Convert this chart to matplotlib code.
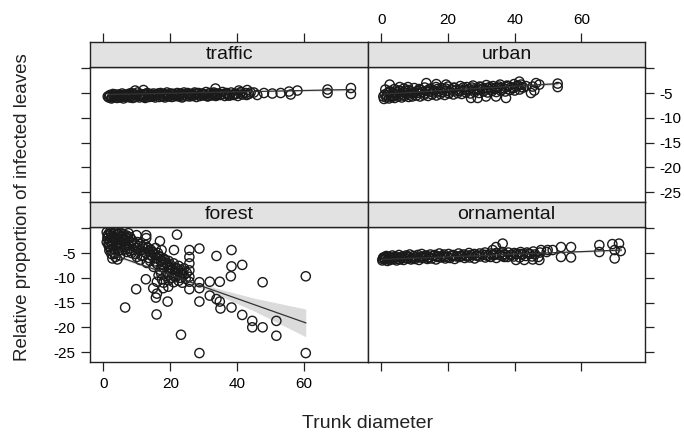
import numpy as np
import matplotlib
matplotlib.use("Agg")
import matplotlib.pyplot as plt

plt.rcParams['font.family'] = ['Liberation Sans', 'DejaVu Sans']

# ---- data ----
traffic_pts = [
    (1.6,-5.9),(2.4,-6.1),(3.3,-5.8),(4.1,-6.0),(5.2,-5.9),(6.0,-6.1),(6.9,-5.8),(7.9,-5.9),(8.8,-6.0),(9.7,-5.8),
    (10.8,-5.9),(11.6,-5.7),(12.5,-6.0),(13.7,-5.8),(14.6,-5.7),(15.5,-5.9),(16.7,-5.8),(17.6,-5.6),(18.4,-5.9),(19.6,-5.7),
    (20.5,-5.8),(21.7,-5.6),(22.6,-5.7),(23.5,-5.9),(24.8,-5.6),(25.7,-5.7),(26.9,-5.5),(27.8,-5.8),(28.9,-5.6),(30.1,-5.5),
    (31.2,-5.7),(32.4,-5.5),(33.6,-5.6),(34.9,-5.4),(36.3,-5.6),(37.4,-5.5),(38.9,-5.4),(40.2,-5.6),
    (2.0,-5.4),(2.9,-5.2),(3.7,-5.5),(4.6,-5.3),(5.6,-5.1),(6.5,-5.4),(7.4,-5.2),(8.3,-5.0),(9.3,-5.3),(10.2,-4.9),
    (11.1,-5.2),(12.0,-5.3),(13.1,-5.0),(14.1,-5.2),(15.0,-5.1),(16.1,-5.3),(17.1,-5.0),(18.0,-5.2),(19.0,-4.9),(20.1,-5.1),
    (21.1,-5.2),(22.1,-5.0),(23.0,-5.1),(24.1,-4.9),(25.2,-5.0),(26.3,-5.2),(27.3,-4.9),(28.4,-5.0),(29.5,-5.1),(30.7,-4.8),
    (31.8,-5.0),(33.0,-4.9),(34.3,-5.1),(35.6,-4.8),(36.8,-5.0),(38.2,-4.9),(39.6,-5.2),(41.1,-4.8),(42.5,-5.0),(44.0,-4.9),
    (1.8,-5.6),(3.0,-5.7),(4.4,-5.5),(5.8,-5.6),(7.1,-5.5),(8.5,-5.6),(9.9,-5.4),(11.3,-5.5),(12.8,-5.4),(14.3,-5.5),
    (15.8,-5.3),(17.4,-5.5),(18.9,-5.4),(20.8,-5.3),(22.4,-5.5),(24.3,-5.3),(26.0,-5.4),(27.9,-5.3),(29.8,-5.2),(31.5,-5.3),
    (33.3,-5.2),(35.2,-5.3),(37.1,-5.2),(39.3,-5.1),(41.6,-5.3),(43.5,-5.2),
    (1.3,-5.7),(2.6,-5.9),(3.5,-5.3),(4.8,-5.8),(5.5,-5.4),(6.7,-5.7),(7.6,-5.4),(8.1,-5.7),(9.0,-5.2),(10.6,-5.6),
    (11.9,-5.3),(12.2,-5.8),(13.4,-5.2),(14.9,-5.7),(15.2,-5.5),(16.4,-5.1),(17.9,-5.7),(18.7,-5.3),(19.3,-5.6),(20.7,-5.2),
    (21.5,-5.6),(22.9,-5.3),(23.8,-5.7),(25.5,-5.2),(26.6,-5.6),(27.6,-5.1),(28.6,-5.5),(29.9,-5.3),(31.0,-5.6),(32.8,-5.1),
    (34.0,-5.4),(35.9,-5.2),(37.8,-5.5),(39.0,-5.3),(40.9,-5.1),(42.8,-5.4),
    (9.5,-4.5),(12.0,-4.4),(33.5,-4.1),(40.5,-4.5),(43.0,-4.4),(45.0,-4.9),(46.0,-5.4),(48.0,-5.0),(50.5,-5.1),(53.0,-5.0),
    (55.5,-4.7),(56.0,-5.3),(58.0,-4.5),(67.0,-4.3),(67.0,-5.0),(74.0,-4.0),(74.0,-5.2),
]

urban_pts = [
    (0.8,-6.2),(1.5,-5.9),(2.3,-6.1),(3.2,-5.8),(4.0,-6.0),(5.0,-5.7),(6.1,-5.9),(7.0,-5.6),(8.2,-5.8),(9.3,-5.7),
    (10.5,-5.5),(11.6,-5.7),(12.8,-5.4),(14.0,-5.6),(15.2,-5.3),(16.5,-5.5),(17.7,-5.2),(19.0,-5.4),(20.3,-5.1),(21.6,-5.3),
    (22.9,-5.0),(24.1,-5.2),(25.4,-4.9),(26.7,-5.1),(28.0,-4.8),(29.3,-5.0),(30.6,-4.7),(31.9,-4.9),(33.2,-4.6),(34.5,-4.8),
    (35.8,-4.5),(37.2,-4.7),(38.6,-4.4),(40.0,-4.5),(41.5,-4.3),
    (1.0,-5.3),(1.9,-5.0),(2.8,-5.4),(3.7,-5.1),(4.7,-4.9),(5.6,-5.2),(6.6,-4.8),(7.6,-5.0),(8.7,-4.7),(9.8,-4.9),
    (10.9,-4.6),(12.1,-4.8),(13.3,-4.6),(14.5,-4.7),(15.8,-4.5),(17.0,-4.7),(18.3,-4.4),(19.6,-4.6),(21.0,-4.3),(22.3,-4.5),
    (23.6,-4.3),(25.0,-4.4),(26.3,-4.2),(27.6,-4.3),(29.0,-4.1),(30.4,-4.2),(31.7,-4.0),(33.1,-4.1),(34.5,-3.9),(35.9,-4.0),
    (37.4,-3.8),(38.9,-3.9),(40.4,-3.7),(42.0,-3.8),(43.4,-3.6),
    (1.2,-4.3),(2.5,-4.6),(3.9,-4.2),(5.3,-4.5),(6.8,-4.1),(8.3,-4.4),(9.9,-4.0),(11.4,-4.2),(13.0,-3.9),(14.7,-4.1),
    (16.4,-3.8),(18.2,-4.0),(20.0,-3.7),(21.8,-3.9),(23.7,-3.6),(25.6,-3.8),(27.5,-3.5),(29.5,-3.7),(31.5,-3.4),(33.5,-3.6),
    (35.6,-3.3),(37.7,-3.5),(39.8,-3.2),(41.9,-3.3),
    (0.6,-5.7),(1.7,-5.5),(2.6,-4.8),(3.5,-5.6),(4.4,-5.3),(5.4,-4.6),(6.3,-5.4),(7.3,-4.5),(8.5,-5.3),(9.5,-5.1),
    (10.7,-5.0),(11.8,-4.4),(13.0,-5.1),(14.3,-4.3),(15.5,-4.9),(16.8,-4.2),(18.0,-4.8),(19.3,-4.1),(20.6,-4.7),(21.9,-4.0),
    (23.3,-4.6),(24.6,-3.9),(25.9,-4.5),(27.2,-3.9),(28.6,-4.4),(30.0,-3.8),(31.3,-4.3),(32.6,-3.8),(34.0,-4.2),(35.3,-3.7),
    (36.7,-4.1),(38.2,-3.6),(39.6,-4.0),(41.0,-3.5),(42.6,-3.9),
    (2.5,-3.3),(5.5,-3.8),(8.0,-3.8),(13.5,-3.0),(16.5,-3.2),(19.4,-3.3),(26.9,-6.0),(28.9,-6.0),(31.4,-5.7),(34.4,-5.7),
    (37.4,-6.0),(41.4,-2.7),(44.9,-5.0),(45.9,-4.5),(45.4,-3.7),(46.4,-3.0),(47.4,-3.3),(52.9,-3.1),(52.9,-3.8),
]

forest_pts = [
    (1.0,-0.8),(1.5,-1.2),(2.0,-0.7),(2.5,-1.5),(3.0,-1.0),(3.5,-0.8),(4.0,-1.4),(4.5,-1.1),(5.0,-0.9),(5.5,-1.6),
    (6.0,-1.2),(6.5,-1.8),(7.0,-1.5),(7.5,-1.0),
    (1.2,-2.0),(1.8,-2.5),(2.3,-1.9),(2.9,-2.7),(3.4,-2.2),(4.0,-3.0),(4.6,-2.4),(5.2,-2.9),(5.8,-2.3),(6.4,-3.2),
    (7.0,-2.6),(7.6,-3.4),(8.2,-2.8),
    (1.5,-3.2),(2.0,-3.8),(2.6,-3.3),(3.2,-4.2),(3.8,-3.6),(4.4,-4.6),(5.0,-3.9),(5.7,-4.4),(6.3,-3.8),(7.0,-4.8),
    (7.7,-4.2),(8.4,-5.0),(9.1,-4.4),
    (1.8,-4.5),(2.4,-5.2),(3.0,-4.9),(3.6,-5.8),(4.2,-6.3),(2.7,-6.1),(5.0,-5.5),
    (1.3,-1.5),(2.2,-1.1),(3.2,-1.7),(4.3,-2.0),(5.3,-1.8),(6.2,-2.2),(7.2,-2.0),(8.0,-1.8),(8.6,-2.4),(9.3,-3.0),
    (10.2,-2.8),(11.0,-3.2),(11.8,-3.7),(12.6,-3.4),(13.3,-4.0),(14.1,-4.3),(14.8,-4.8),(15.5,-5.3),(16.3,-5.0),(17.0,-5.8),
    (17.8,-6.8),(18.5,-6.4),(19.2,-7.4),(20.0,-7.9),(20.7,-8.4),(21.5,-8.8),(22.2,-8.3),(23.0,-9.2),(23.8,-9.0),(24.6,-10.2),
    (1.0,-2.8),(1.6,-3.6),(2.2,-4.4),(3.4,-5.2),(4.8,-3.3),(6.6,-4.2),(8.0,-4.6),(9.6,-5.2),(11.5,-5.6),(13.6,-6.0),
    (15.4,-6.7),(17.6,-7.4),(19.8,-8.0),(21.6,-9.9),(23.6,-11.0),(20.4,-10.0),(18.6,-9.6),
    (9.0,-3.5),(9.8,-4.0),(10.5,-3.6),(11.2,-4.5),(12.0,-4.1),(12.8,-5.0),(13.5,-4.6),(14.2,-5.5),(15.0,-5.1),(15.8,-6.0),
    (16.5,-5.6),(17.2,-6.5),(18.0,-6.1),(18.7,-7.0),(19.5,-6.6),(20.2,-7.5),(21.0,-7.1),(21.8,-8.0),(22.5,-7.6),(23.3,-8.5),
    (24.1,-8.1),(24.9,-9.0),
    (10.0,-5.8),(11.0,-6.4),(12.0,-5.5),(13.0,-7.0),(14.0,-6.6),(15.0,-7.8),(16.0,-7.2),(17.0,-8.4),(18.0,-7.9),(19.0,-9.0),
    (20.0,-8.5),(21.0,-9.6),(22.0,-9.1),(23.0,-10.0),(24.0,-9.5),
    (16.5,-9.5),(17.5,-10.3),(18.0,-11.0),(19.5,-10.5),(21.0,-10.9),(22.5,-10.6),(16.0,-10.8),(17.2,-9.0),
    (25.7,-4.4),(25.7,-5.8),(25.7,-7.1),(25.7,-8.5),(25.7,-9.8),(25.7,-10.8),(25.7,-12.3),
    (9.9,-1.4),(12.8,-1.4),(12.8,-2.0),(16.9,-2.6),(22.0,-1.3),(17.4,-4.4),(21.1,-4.4),(15.6,-4.0),(28.7,-4.1),(33.8,-5.6),
    (38.3,-4.4),(38.3,-7.7),(41.5,-7.4),(38.1,-9.7),(47.6,-10.9),(60.5,-9.7),(9.8,-12.3),(6.5,-16.0),(15.9,-17.4),(15.7,-14.0),
    (19.2,-14.8),(23.2,-21.5),(28.7,-25.2),(60.5,-25.2),(28.7,-14.8),(31.8,-13.6),(33.8,-14.3),(34.8,-14.8),(35.0,-16.2),(38.3,-16.0),
    (41.5,-17.5),(44.5,-18.7),(44.5,-20.0),(47.6,-20.0),(51.7,-18.7),(51.7,-21.7),(34.8,-10.8),(31.8,-10.8),(28.7,-10.9),(28.7,-12.1),
    (12.7,-10.3),(17.9,-12.1),(19.4,-11.8),(14.9,-12.1),(16.0,-13.2),
]

ornamental_pts = [
    (0.3,-6.5),(1.0,-6.3),(1.8,-6.6),(2.7,-6.4),(3.6,-6.2),(4.6,-6.5),(5.6,-6.3),(6.7,-6.4),(7.8,-6.1),(8.9,-6.3),
    (10.1,-6.2),(11.3,-6.4),(12.5,-6.0),(13.8,-6.2),(15.1,-6.1),(16.4,-6.3),(17.8,-5.9),(19.2,-6.1),(20.6,-6.0),(22.0,-6.2),
    (23.5,-5.8),(25.0,-6.0),(26.5,-5.9),(28.0,-6.1),(29.6,-5.7),(31.2,-5.9),(32.8,-5.8),(34.5,-6.0),(36.2,-5.6),(37.9,-5.8),
    (39.7,-5.7),(41.5,-5.9),(43.3,-5.6),(45.2,-5.7),(47.1,-5.8),
    (0.6,-5.9),(1.5,-5.6),(2.4,-5.8),(3.3,-5.5),(4.3,-5.7),(5.3,-5.4),(6.3,-5.7),(7.4,-5.5),(8.5,-5.3),(9.7,-5.6),
    (10.9,-5.4),(12.1,-5.2),(13.4,-5.5),(14.7,-5.3),(16.0,-5.4),(17.4,-5.1),(18.8,-5.3),(20.2,-5.2),(21.7,-5.4),(23.2,-5.1),
    (24.7,-5.3),(26.3,-5.0),(27.9,-5.2),(29.5,-5.1),(31.1,-4.9),(32.8,-5.1),(34.5,-5.0),(36.3,-4.8),(38.1,-4.9),(39.9,-5.0),
    (41.8,-4.8),(43.7,-4.9),(45.6,-4.7),(47.6,-4.9),(49.6,-4.8),
    (0.9,-6.0),(2.1,-6.1),(3.9,-5.9),(5.9,-6.0),(7.9,-5.8),(10.0,-5.9),(12.2,-5.7),(14.4,-5.8),(16.7,-5.6),(19.0,-5.7),
    (21.4,-5.6),(23.8,-5.6),(26.2,-5.5),(28.7,-5.5),(31.3,-5.4),(33.9,-5.4),(36.5,-5.3),(39.2,-5.3),(41.9,-5.2),(44.6,-5.2),
    (0.4,-6.2),(1.3,-5.8),(2.2,-6.3),(3.0,-6.0),(4.0,-5.9),(4.9,-6.2),(5.9,-5.9),(7.0,-6.0),(8.1,-5.7),(9.3,-6.1),
    (10.5,-5.8),(11.7,-5.9),(13.0,-5.8),(14.2,-6.0),(15.5,-5.6),(16.9,-5.8),(18.3,-5.6),(19.7,-5.8),(21.1,-5.5),(22.6,-5.7),
    (24.1,-5.5),(25.7,-5.7),(27.2,-5.4),(28.8,-5.6),(30.4,-5.3),(32.0,-5.6),(33.7,-5.2),(35.4,-5.4),(37.1,-5.3),(38.8,-5.5),
    (40.6,-5.2),(42.4,-5.3),(44.2,-5.1),(46.1,-5.3),
    (36.4,-3.1),(34.4,-3.8),(33.4,-4.4),(36.9,-5.8),(40.4,-6.4),(42.9,-6.4),(45.4,-6.3),(47.4,-6.4),(47.9,-4.4),(49.9,-4.4),
    (51.4,-4.4),(53.9,-3.8),(53.9,-5.8),(56.9,-3.8),(56.9,-5.9),(65.4,-3.4),(65.4,-4.8),(69.3,-3.2),(70.0,-4.4),(70.0,-6.1),
    (71.3,-3.1),(71.8,-4.6),
]

# fitted lines and their confidence band half widths
traffic_fit = ([1.5, 74.0], [-5.3, -4.3])
urban_fit = ([0.8, 53.0], [-5.2, -3.1])
forest_fit = ([1.0, 60.5], [-4.9, -19.1])
ornamental_fit = ([0.3, 72.0], [-6.3, -4.4])
traffic_band = ([1.5, 37.0, 74.0], [0.15, 0.05, 0.25])
urban_band = ([0.8, 27.0, 53.0], [0.2, 0.07, 0.3])
forest_band = ([1.0, 15.0, 30.0, 45.0, 60.5], [0.3, 0.2, 0.4, 1.3, 2.8])
ornamental_band = ([0.3, 36.0, 72.0], [0.15, 0.05, 0.25])

x_ticks = [0, 20, 40, 60]
y_ticks = [0, -5, -10, -15, -20, -25]
y_ticklabels = ['', '-5', '-10', '-15', '-20', '-25']
xlim = (-4.0, 79.1)
ylim = (-27.0, 0.25)

fig = plt.figure(figsize=(6.84, 4.32), dpi=100)
W, H = 684.0, 432.0


def box(x0, y0, x1, y1):
    return [x0 / W, 1 - y1 / H, (x1 - x0) / W, (y1 - y0) / H]


panels = [
    # name, points, fit, band, column x0,x1, strip top, panel top, panel bottom (pixels)
    ('traffic', traffic_pts, traffic_fit, traffic_band, 90, 368, 42, 67, 202),
    ('urban', urban_pts, urban_fit, urban_band, 368, 645, 42, 67, 202),
    ('forest', forest_pts, forest_fit, forest_band, 90, 368, 202, 227, 362),
    ('ornamental', ornamental_pts, ornamental_fit, ornamental_band, 368, 645, 202, 227, 362),
]

tick_kw = dict(direction='out', length=6.5, width=0.9, color='#222222', labelsize=11, pad=4)

for name, pts, fit, band, x0, x1, st, pt, pb in panels:
    ax = fig.add_axes(box(x0, pt, x1, pb))
    sx = fig.add_axes(box(x0, st, x1, pt))
    pts = np.array(pts)
    bx = np.array(band[0])
    by = np.interp(bx, fit[0], fit[1])
    bh = np.array(band[1])
    ax.fill_between(bx, by - bh, by + bh, color='#c4c4c4', alpha=0.6, lw=0)
    ax.scatter(pts[:, 0], pts[:, 1], s=44, facecolors='none', edgecolors='#1a1a1a', linewidths=1.0)
    ax.plot(fit[0], fit[1], color='#333333', lw=0.9)
    ax.set_xlim(*xlim)
    ax.set_ylim(*ylim)
    for a in (ax, sx):
        for sp in a.spines.values():
            sp.set_linewidth(1.0)
            sp.set_color('#222222')
    sx.set_facecolor('#e2e2e2')
    sx.set_xlim(*xlim)
    sx.set_yticks([])
    sx.text(0.5, 0.5, name, transform=sx.transAxes, ha='center', va='center', fontsize=14, color='#111111')
    ax.tick_params(**tick_kw)
    sx.tick_params(**tick_kw)
    ax.set_xticks(x_ticks)
    ax.set_yticks(y_ticks)
    ax.set_yticklabels(y_ticklabels)
    sx.set_xticks(x_ticks)
    top = name in ('traffic', 'urban')
    left = name in ('traffic', 'forest')
    if top:
        ax.tick_params(axis='x', bottom=False, labelbottom=False)
        sx.tick_params(axis='x', bottom=False, labelbottom=False, top=True, labeltop=(name == 'urban'))
    else:
        sx.tick_params(axis='x', bottom=False, labelbottom=False)
        ax.tick_params(axis='x', bottom=True, labelbottom=(name == 'forest'))
    if left:
        ax.tick_params(axis='y', left=True, right=False, labelleft=(name == 'forest'), labelright=False)
    else:
        ax.tick_params(axis='y', left=False, right=True, labelleft=False, labelright=(name == 'urban'))

fig.text(23 / W, 1 - 207 / H, 'Relative proportion of infected leaves', rotation=90,
         ha='center', va='center', fontsize=13.5, color='#222222')
fig.text(368 / W, 1 - 423 / H, 'Trunk diameter', ha='center', va='center', fontsize=14, color='#222222')

fig.savefig('out.png', dpi=100)
